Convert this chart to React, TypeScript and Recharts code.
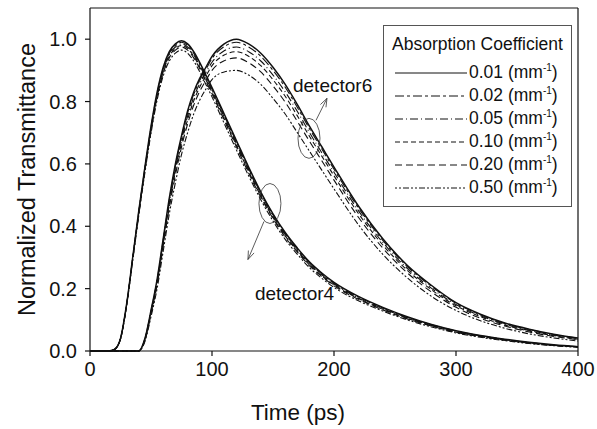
import React from "react";
import {
  LineChart,
  Line,
  XAxis,
  YAxis,
  Label,
  Legend,
  ReferenceLine,
  ReferenceDot,
} from "recharts";

// time axis (ps) shared by every curve
const times = [
  0, 10, 15, 20, 25, 30, 35, 40, 45, 50, 55, 60, 65, 70, 75, 80, 85, 90, 95, 100,
  110, 120, 130, 140, 150, 160, 170, 180, 190, 200, 220, 240, 260, 280, 300, 320,
  340, 360, 380, 400,
];

// detector 4, one array per absorption coefficient
const det4Mu001 = [0, 0, 0, 0.005, 0.04, 0.15, 0.3, 0.45, 0.59, 0.72, 0.83, 0.91, 0.96, 0.985, 0.995, 0.985, 0.96, 0.925, 0.885, 0.845, 0.76, 0.675, 0.59, 0.51, 0.44, 0.38, 0.33, 0.285, 0.25, 0.22, 0.175, 0.14, 0.11, 0.085, 0.065, 0.05, 0.038, 0.028, 0.02, 0.014];
const det4Mu002 = [0, 0, 0, 0.005, 0.04, 0.149, 0.298, 0.447, 0.587, 0.716, 0.826, 0.905, 0.955, 0.98, 0.99, 0.98, 0.955, 0.92, 0.88, 0.84, 0.755, 0.67, 0.585, 0.506, 0.436, 0.376, 0.327, 0.282, 0.247, 0.217, 0.173, 0.138, 0.108, 0.084, 0.064, 0.049, 0.037, 0.027, 0.019, 0.014];
const det4Mu005 = [0, 0, 0, 0.005, 0.039, 0.148, 0.297, 0.445, 0.584, 0.713, 0.822, 0.9, 0.95, 0.975, 0.985, 0.975, 0.95, 0.915, 0.875, 0.835, 0.75, 0.665, 0.581, 0.502, 0.432, 0.373, 0.323, 0.279, 0.244, 0.215, 0.17, 0.136, 0.107, 0.082, 0.063, 0.048, 0.036, 0.027, 0.019, 0.013];
const det4Mu010 = [0, 0, 0, 0.005, 0.039, 0.147, 0.295, 0.443, 0.581, 0.709, 0.817, 0.896, 0.945, 0.97, 0.98, 0.97, 0.945, 0.91, 0.87, 0.83, 0.745, 0.66, 0.576, 0.497, 0.428, 0.369, 0.32, 0.276, 0.241, 0.212, 0.168, 0.134, 0.105, 0.081, 0.061, 0.047, 0.035, 0.026, 0.018, 0.013];
const det4Mu020 = [0, 0, 0, 0.005, 0.039, 0.147, 0.293, 0.44, 0.578, 0.705, 0.813, 0.891, 0.94, 0.965, 0.975, 0.965, 0.94, 0.905, 0.865, 0.825, 0.74, 0.655, 0.571, 0.493, 0.425, 0.365, 0.317, 0.273, 0.239, 0.209, 0.166, 0.132, 0.103, 0.08, 0.06, 0.046, 0.035, 0.025, 0.018, 0.013];
const det4Mu050 = [0, 0, 0, 0.005, 0.038, 0.145, 0.29, 0.435, 0.572, 0.698, 0.805, 0.882, 0.93, 0.955, 0.965, 0.955, 0.93, 0.895, 0.855, 0.815, 0.73, 0.645, 0.562, 0.485, 0.417, 0.358, 0.31, 0.267, 0.233, 0.204, 0.161, 0.128, 0.1, 0.077, 0.058, 0.044, 0.033, 0.024, 0.017, 0.012];

// detector 6
const det6Mu001 = [0, 0, 0, 0, 0, 0, 0, 0, 0.04, 0.13, 0.23, 0.36, 0.49, 0.6, 0.69, 0.77, 0.83, 0.875, 0.91, 0.945, 0.985, 1.0, 0.985, 0.955, 0.91, 0.855, 0.79, 0.72, 0.655, 0.59, 0.465, 0.36, 0.275, 0.21, 0.155, 0.118, 0.09, 0.07, 0.054, 0.042];
const det6Mu002 = [0, 0, 0, 0, 0, 0, 0, 0, 0.039, 0.128, 0.227, 0.356, 0.485, 0.594, 0.684, 0.763, 0.823, 0.868, 0.903, 0.938, 0.976, 0.99, 0.975, 0.945, 0.9, 0.846, 0.781, 0.712, 0.648, 0.583, 0.459, 0.355, 0.271, 0.207, 0.153, 0.116, 0.088, 0.069, 0.053, 0.041];
const det6Mu005 = [0, 0, 0, 0, 0, 0, 0, 0, 0.038, 0.125, 0.223, 0.35, 0.478, 0.585, 0.675, 0.753, 0.813, 0.858, 0.893, 0.926, 0.963, 0.975, 0.96, 0.93, 0.885, 0.831, 0.768, 0.7, 0.636, 0.573, 0.45, 0.348, 0.265, 0.201, 0.149, 0.113, 0.086, 0.066, 0.051, 0.04];
const det6Mu010 = [0, 0, 0, 0, 0, 0, 0, 0, 0.036, 0.122, 0.218, 0.344, 0.47, 0.576, 0.666, 0.742, 0.802, 0.847, 0.882, 0.915, 0.949, 0.96, 0.945, 0.915, 0.87, 0.817, 0.754, 0.688, 0.625, 0.562, 0.441, 0.34, 0.259, 0.196, 0.145, 0.11, 0.083, 0.064, 0.049, 0.038];
const det6Mu020 = [0, 0, 0, 0, 0, 0, 0, 0, 0.034, 0.118, 0.212, 0.336, 0.46, 0.564, 0.654, 0.728, 0.788, 0.833, 0.868, 0.9, 0.931, 0.94, 0.925, 0.895, 0.85, 0.798, 0.736, 0.672, 0.61, 0.548, 0.429, 0.33, 0.251, 0.189, 0.14, 0.105, 0.08, 0.061, 0.047, 0.036];
const det6Mu050 = [0, 0, 0, 0, 0, 0, 0, 0, 0.03, 0.11, 0.2, 0.32, 0.44, 0.54, 0.63, 0.7, 0.76, 0.805, 0.84, 0.87, 0.895, 0.9, 0.885, 0.855, 0.81, 0.76, 0.7, 0.64, 0.58, 0.52, 0.405, 0.31, 0.235, 0.175, 0.13, 0.097, 0.073, 0.055, 0.042, 0.032];

const coefficients = ["0.01", "0.02", "0.05", "0.10", "0.20", "0.50"];
const xTicks = [0, 100, 200, 300, 400];
const yTicks = [0, 0.2, 0.4, 0.6, 0.8, 1.0];

const det4 = [det4Mu001, det4Mu002, det4Mu005, det4Mu010, det4Mu020, det4Mu050];
const det6 = [det6Mu001, det6Mu002, det6Mu005, det6Mu010, det6Mu020, det6Mu050];

const rows = times.map((t, i) => {
  const row: Record<string, number> = { t };
  coefficients.forEach((_, k) => {
    row[`d4_${k}`] = det4[k][i];
    row[`d6_${k}`] = det6[k][i];
  });
  return row;
});

// line style per coefficient
const dashes = ["", "9 3 3 3", "8 3 1 3", "5 3", "7 4", "2 2 2 2 6 2"];
const widths = [1.5, 1.1, 1.1, 1.1, 1.1, 1.1];

const FONT = "'Liberation Sans', Arial, Helvetica, sans-serif";
const INK = "#111";

function CoefficientLegend() {
  return (
    <div
      style={{
        width: 189,
        height: 182,
        boxSizing: "border-box",
        border: "1px solid #555",
        background: "#fff",
        fontFamily: FONT,
        color: INK,
      }}
    >
      <div style={{ height: 34, lineHeight: "34px", fontSize: 17.5, textAlign: "center", paddingTop: 1, whiteSpace: "nowrap" }}>
        Absorption Coefficient
      </div>
      {coefficients.map((c, i) => (
        <div key={c} style={{ display: "flex", alignItems: "center", height: 23, whiteSpace: "nowrap" }}>
          <svg width={72} height={8} style={{ marginLeft: 11, flex: "none" }}>
            <line x1={0} y1={4} x2={72} y2={4} stroke={INK} strokeWidth={1} strokeDasharray={dashes[i]} />
          </svg>
          <span style={{ fontSize: 17.5, marginLeft: 2, lineHeight: 1 }}>
            {c} (mm<sup style={{ fontSize: 10, lineHeight: 0 }}>-1</sup>)
          </span>
        </div>
      ))}
    </div>
  );
}

// ellipse + arrow + name, drawn around a detector's bundle of curves
function bundleNote(name: string, arrow: number[], text: number[]) {
  return (props: any) => {
    const { cx, cy } = props;
    const [x1, y1, x2, y2] = arrow;
    const ang = Math.atan2(y2 - y1, x2 - x1);
    const head = (a: number) => [cx + x2 - 9 * Math.cos(ang + a), cy + y2 - 9 * Math.sin(ang + a)];
    const [hx1, hy1] = head(0.35);
    const [hx2, hy2] = head(-0.35);
    return (
      <g stroke="#333" strokeWidth={0.8} fill="none">
        <ellipse cx={cx} cy={cy} rx={11} ry={20} />
        <line x1={cx + x1} y1={cy + y1} x2={cx + x2} y2={cy + y2} />
        <polyline points={`${hx1},${hy1} ${cx + x2},${cy + y2} ${hx2},${hy2}`} />
        <text x={cx + text[0]} y={cy + text[1]} stroke="none" fill={INK} fontSize={19} fontFamily={FONT}>
          {name}
        </text>
      </g>
    );
  };
}

export default function App() {
  return (
    <div style={{ position: "absolute", left: 0, top: 0, background: "#fff" }}>
      <LineChart width={597} height={429} data={rows} margin={{ top: 8, right: 19, bottom: 0, left: 0 }}>
        <XAxis
          dataKey="t"
          type="number"
          domain={[0, 400]}
          ticks={xTicks}
          height={78}
          stroke={INK}
          strokeWidth={1.2}
          tickSize={5}
          tickMargin={6}
          tick={{ fontSize: 20, fill: INK, fontFamily: FONT }}
        >
          <Label
            value="Time (ps)"
            position="insideBottom"
            offset={9}
            dx={-36}
            style={{ fontSize: 22.5, fill: INK, fontFamily: FONT }}
          />
        </XAxis>
        <YAxis
          type="number"
          domain={[0, 1.1]}
          ticks={yTicks}
          width={90}
          stroke={INK}
          strokeWidth={1.2}
          tickSize={5}
          tickMargin={8}
          tickFormatter={(v) => Number(v).toFixed(1)}
          tick={{ fontSize: 20, fill: INK, fontFamily: FONT }}
        >
          <Label
            value="Normalized Transmittance"
            angle={-90}
            position="insideLeft"
            offset={21}
            dx={6}
            style={{ fontSize: 23.5, fill: INK, fontFamily: FONT, textAnchor: "middle" }}
          />
        </YAxis>
        <ReferenceLine y={1.1} stroke={INK} strokeWidth={1.2} />
        <ReferenceLine x={400} stroke={INK} strokeWidth={1.2} />
        {coefficients.map((c, k) => (
          <Line
            key={`d4_${c}`}
            dataKey={`d4_${k}`}
            type="monotone"
            stroke={INK}
            strokeWidth={widths[k]}
            strokeDasharray={dashes[k]}
            dot={false}
            isAnimationActive={false}
          />
        ))}
        {coefficients.map((c, k) => (
          <Line
            key={`d6_${c}`}
            dataKey={`d6_${k}`}
            type="monotone"
            stroke={INK}
            strokeWidth={widths[k]}
            strokeDasharray={dashes[k]}
            dot={false}
            isAnimationActive={false}
          />
        ))}
        <ReferenceDot
          x={179.5}
          y={0.682}
          ifOverflow="visible"
          shape={bundleNote("detector6", [7, -18, 18, -40], [-16, -46])}
        />
        <ReferenceDot
          x={147.5}
          y={0.473}
          ifOverflow="visible"
          shape={bundleNote("detector4", [-6, 18, -22, 56], [-15, 96])}
        />
        <Legend
          layout="vertical"
          align="center"
          verticalAlign="middle"
          wrapperStyle={{ left: 383, top: 25, width: 189 }}
          content={() => <CoefficientLegend />}
        />
      </LineChart>
    </div>
  );
}
